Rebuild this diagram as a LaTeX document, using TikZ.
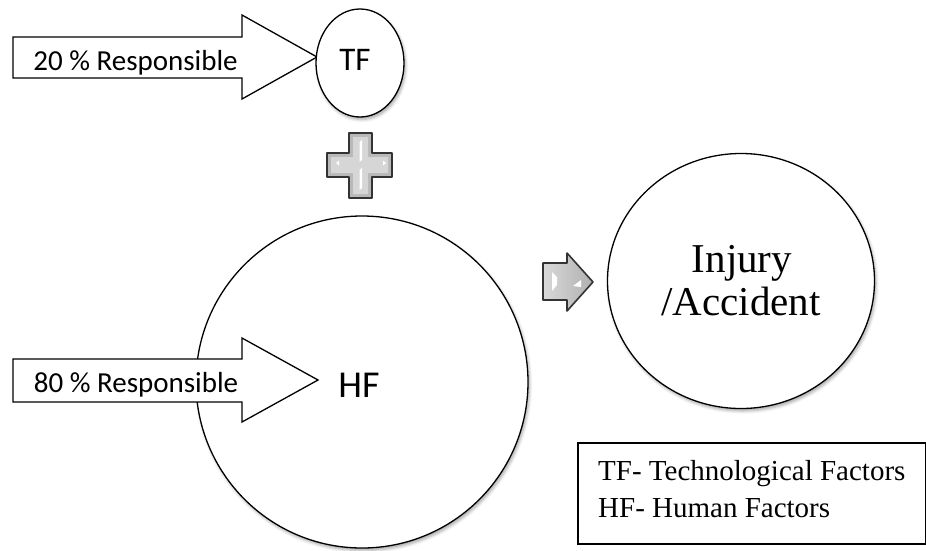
\documentclass[tikz,border=0pt]{standalone}
\usepackage{fontspec}
\setmainfont{Liberation Serif}
\newfontfamily\calibri{Carlito}
\usetikzlibrary{shapes.geometric,shadows.blur}
\begin{document}
\begin{tikzpicture}[x=1pt,y=-1pt,
  bubble/.style={draw=black, line width=1.3pt, fill=white, ellipse, inner sep=0pt,
    blur shadow={shadow xshift=1.5pt, shadow yshift=-2.5pt,
                 shadow blur radius=3pt, shadow opacity=35}},
  blockarrow/.style={draw=black, line width=1.3pt, fill=white, line join=miter},
  pctlabel/.style={font=\calibri\fontsize{29}{31}\selectfont, anchor=base, inner sep=0pt},
  sanslabel/.style={anchor=base, inner sep=0pt},
  bigserif/.style={font=\fontsize{41}{43}\selectfont, anchor=base, inner sep=0pt},
  legendtext/.style={font=\fontsize{29}{31}\selectfont, anchor=base west, inner sep=0pt},
  bevelrim/.style={draw=black!80, line width=1.8pt, line join=round, fill=gray!55},
  bevelface/.style={fill=gray!32},
  glint/.style={fill=white, draw=none}
]
\useasboundingbox (0,0) rectangle (926,550);

% upper input arrow and the TF bubble
\draw[blockarrow] (13,37) -- (242,37) -- (242,15) -- (317,57) -- (242,99)
  -- (242,78) -- (13,78) -- cycle;
\node[pctlabel] (pct20) at (135.5,70) {20 \% Responsible};
\node[bubble, minimum width=88pt, minimum height=108pt] (tf) at (360,63) {};
\node[sanslabel, font=\calibri\fontsize{33}{35}\selectfont] (tftext) at (355,70) {TF};

% bevelled plus sign
\draw[bevelrim] (349,133) -- (372,133) -- (372,153) -- (392,153) -- (392,177)
  -- (372,177) -- (372,198) -- (349,198) -- (349,177) -- (327,177)
  -- (327,153) -- (349,153) -- cycle;
\fill[bevelface] (353,137) -- (368,137) -- (368,157) -- (388,157) -- (388,173)
  -- (368,173) -- (368,194) -- (353,194) -- (353,173) -- (331,173)
  -- (331,157) -- (353,157) -- cycle;
\fill[glint] (359.5,142) -- (362,140) -- (362,160) -- (359.5,162) -- cycle;
\fill[glint] (359.5,170) -- (362,168) -- (362,188) -- (359.5,190) -- cycle;
\fill[glint] (336,163) -- (339,160.5) -- (339,165.5) -- cycle;
\fill[glint] (386,163) -- (383,160.5) -- (383,165.5) -- cycle;

% HF bubble
\node[bubble, minimum width=332pt, minimum height=332pt] (hf) at (362,382) {};
\node[sanslabel, font=\calibri\fontsize{38}{40}\selectfont] (hftext) at (359,397) {HF};

% lower input arrow, over the HF bubble
\draw[blockarrow] (13,359) -- (242,359) -- (242,338) -- (318,380) -- (242,422)
  -- (242,402) -- (13,402) -- cycle;
\node[pctlabel] (pct80) at (136,392) {80 \% Responsible};

% bevelled grey arrow towards the outcome
\draw[draw=black!80, line width=1.6pt, line join=round,
      left color=gray!30, right color=gray!62]
  (543,263) -- (567,263) -- (567,253) -- (593,282) -- (567,311)
  -- (567,300) -- (543,300) -- cycle;
\fill[glint] (552,272) -- (557,277) -- (557,285) -- (552,291) -- cycle;
\fill[glint] (573,286) -- (581,280) -- (581,287) -- cycle;

% outcome bubble
\node[bubble, minimum width=267pt, minimum height=255pt] (inj) at (741,281) {};
\node[bigserif] (injline1) at (742,272) {Injury};
\node[bigserif] (injline2) at (741,315) {/Accident};

% legend
\node[draw=black, line width=1.6pt, anchor=north west, inner sep=0pt,
      minimum width=348pt, minimum height=101pt] (legend) at (577,442) {};
\node[legendtext] (legtf) at (598,480) {TF- Technological Factors};
\node[legendtext] (leghf) at (598,517) {HF- Human Factors};
\end{tikzpicture}
\end{document}
